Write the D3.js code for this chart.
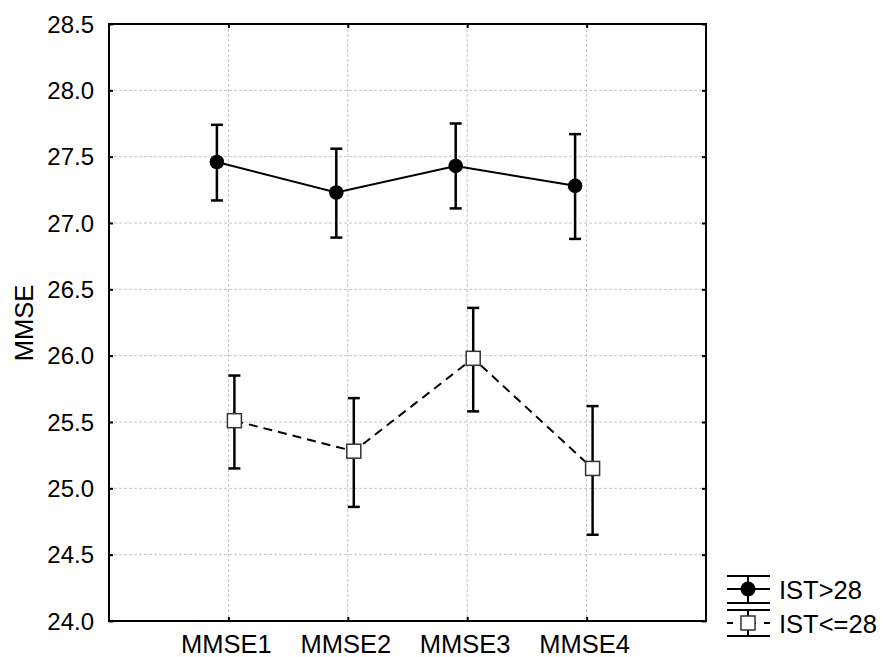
<!DOCTYPE html>
<html>
<head>
<meta charset="utf-8">
<script src="https://cdn.jsdelivr.net/npm/d3@7"></script>
<style>
  body { margin: 0; background: #fff; }
  svg { display: block; }
  text { font-family: Arial, "Liberation Sans", sans-serif; fill: #000; }
</style>
</head>
<body>
<svg id="chart" width="883" height="657"></svg>
<script>
// ---- data ----
const categories = ["MMSE1", "MMSE2", "MMSE3", "MMSE4"];
const seriesNames = ["IST>28", "IST<=28"];
const meanHigh = [27.46, 27.23, 27.43, 27.28];
const upperHigh = [27.74, 27.56, 27.75, 27.67];
const lowerHigh = [27.17, 26.89, 27.11, 26.88];
const meanLow = [25.51, 25.28, 25.98, 25.15];
const upperLow = [25.85, 25.68, 26.36, 25.62];
const lowerLow = [25.15, 24.86, 25.58, 24.65];
const yTicks = [24.0, 24.5, 25.0, 25.5, 26.0, 26.5, 27.0, 27.5, 28.0, 28.5];
const yTitle = "MMSE";

// ---- layout ----
const svg = d3.select("#chart");
const pLeft = 109, pRight = 706, pTop = 24, pBottom = 621;
const x = d3.scaleLinear().domain([0, categories.length + 1]).range([pLeft, pRight]);
const y = d3.scaleLinear().domain([24, 28.5]).range([pBottom, pTop]);
const yFont = 24, labelFont = 25.5;

// gridlines
const grid = svg.append("g");
grid.selectAll("line.h").data(yTicks.slice(1, -1)).join("line")
  .attr("x1", pLeft).attr("x2", pRight)
  .attr("y1", d => y(d)).attr("y2", d => y(d))
  .attr("stroke", "#c4c4c4").attr("stroke-width", 1).attr("stroke-dasharray", "3,2");
grid.selectAll("line.v").data(categories).join("line")
  .attr("x1", (d, i) => x(i + 1)).attr("x2", (d, i) => x(i + 1))
  .attr("y1", pTop).attr("y2", pBottom)
  .attr("stroke", "#c4c4c4").attr("stroke-width", 1).attr("stroke-dasharray", "3,2");

// axes (ticks inward)
const tickLen = 4;
const axL = svg.append("g").attr("transform", `translate(${pLeft},0)`)
  .call(d3.axisRight(y).tickValues(yTicks).tickSize(tickLen).tickFormat(""));
const axR = svg.append("g").attr("transform", `translate(${pRight},0)`)
  .call(d3.axisLeft(y).tickValues(yTicks).tickSize(tickLen).tickFormat(""));
const xTickVals = categories.map((d, i) => i + 1);
const axB = svg.append("g").attr("transform", `translate(0,${pBottom})`)
  .call(d3.axisTop(x).tickValues(xTickVals).tickSize(tickLen).tickFormat(""));
const axT = svg.append("g").attr("transform", `translate(0,${pTop})`)
  .call(d3.axisBottom(x).tickValues(xTickVals).tickSize(tickLen).tickFormat(""));
[axL, axR, axB, axT].forEach(a => {
  a.select(".domain").remove();
  a.selectAll("line").attr("stroke", "#000").attr("stroke-width", 2);
});
// frame
svg.append("rect").attr("x", pLeft).attr("y", pTop)
  .attr("width", pRight - pLeft).attr("height", pBottom - pTop)
  .attr("fill", "none").attr("stroke", "#000").attr("stroke-width", 2);

// tick labels
svg.append("g").selectAll("text").data(yTicks).join("text")
  .attr("x", pLeft - 15).attr("y", d => y(d) + 8.5)
  .attr("text-anchor", "end").attr("font-size", yFont)
  .text(d => d.toFixed(1));
svg.append("g").selectAll("text").data(categories).join("text")
  .attr("x", (d, i) => x(i + 1) - 2).attr("y", pBottom + 31.5)
  .attr("text-anchor", "middle").attr("font-size", labelFont)
  .text(d => d);
svg.append("text")
  .attr("transform", `translate(33,323) rotate(-90)`)
  .attr("text-anchor", "middle").attr("font-size", labelFont)
  .text(yTitle);

// series
const offHigh = -11.5, offLow = 6;
function drawSeries(mean, up, lo, off, dashed, filled) {
  const g = svg.append("g");
  const pts = mean.map((m, i) => ({ cx: x(i + 1) + off, m, u: up[i], l: lo[i] }));
  g.append("path")
    .attr("d", d3.line().x(d => d.cx).y(d => y(d.m))(pts))
    .attr("fill", "none").attr("stroke", "#000").attr("stroke-width", 2)
    .attr("stroke-dasharray", dashed ? "9,6" : null);
  g.selectAll("line.err").data(pts).join("line")
    .attr("x1", d => d.cx).attr("x2", d => d.cx)
    .attr("y1", d => y(d.u)).attr("y2", d => y(d.l))
    .attr("stroke", "#000").attr("stroke-width", 2.5);
  ["u", "l"].forEach(k => {
    g.selectAll("line.cap" + k).data(pts).join("line")
      .attr("x1", d => d.cx - 6).attr("x2", d => d.cx + 6)
      .attr("y1", d => y(d[k])).attr("y2", d => y(d[k]))
      .attr("stroke", "#000").attr("stroke-width", 2.5);
  });
  if (filled) {
    g.selectAll("circle").data(pts).join("circle")
      .attr("cx", d => d.cx).attr("cy", d => y(d.m)).attr("r", 7.3).attr("fill", "#000");
  } else {
    g.selectAll("rect").data(pts).join("rect")
      .attr("x", d => d.cx - 7).attr("y", d => y(d.m) - 7)
      .attr("width", 14).attr("height", 14)
      .attr("fill", "#fff").attr("stroke", "#333").attr("stroke-width", 1.5);
  }
}
drawSeries(meanHigh, upperHigh, lowerHigh, offHigh, false, true);
drawSeries(meanLow, upperLow, lowerLow, offLow, true, false);

// legend
const lg = svg.append("g");
const lx1 = 727, lx2 = 770, lcx = 748;
[[576, 589, 603], [610, 623, 636]].forEach((ys, i) => {
  lg.append("line").attr("x1", lx1).attr("x2", lx2).attr("y1", ys[0]).attr("y2", ys[0])
    .attr("stroke", "#000").attr("stroke-width", 2);
  lg.append("line").attr("x1", lx1).attr("x2", lx2).attr("y1", ys[2]).attr("y2", ys[2])
    .attr("stroke", "#000").attr("stroke-width", 2);
  lg.append("line").attr("x1", lcx).attr("x2", lcx).attr("y1", ys[0]).attr("y2", ys[2])
    .attr("stroke", "#000").attr("stroke-width", 2);
  if (i === 0) {
    lg.append("line").attr("x1", lx1).attr("x2", lx2).attr("y1", ys[1]).attr("y2", ys[1])
      .attr("stroke", "#000").attr("stroke-width", 2);
    lg.append("circle").attr("cx", lcx).attr("cy", ys[1]).attr("r", 7.5).attr("fill", "#000");
  } else {
    lg.append("line").attr("x1", lx1).attr("x2", lx2).attr("y1", ys[1]).attr("y2", ys[1])
      .attr("stroke", "#000").attr("stroke-width", 2).attr("stroke-dasharray", "6,8,15,8");
    lg.append("rect").attr("x", lcx - 7).attr("y", ys[1] - 7).attr("width", 14).attr("height", 14)
      .attr("fill", "#fff").attr("stroke", "#333").attr("stroke-width", 1.5);
  }
  lg.append("text").attr("x", 779).attr("y", ys[1] + 9.5).attr("font-size", labelFont)
    .text(seriesNames[i]);
});
</script>
</body>
</html>
